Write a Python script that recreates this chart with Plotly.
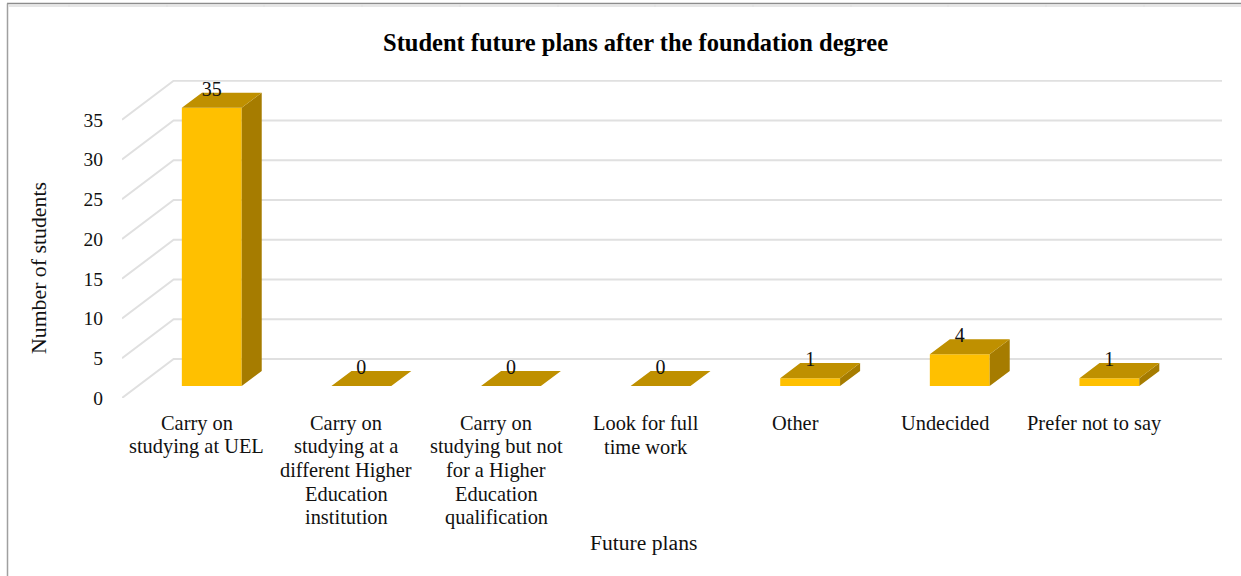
import plotly.graph_objects as go

category_lines = [
    ["Carry on", "studying at UEL"],
    ["Carry on", "studying at a", "different Higher", "Education", "institution"],
    ["Carry on", "studying but not", "for a Higher", "Education", "qualification"],
    ["Look for full", "time work"],
    ["Other"],
    ["Undecided"],
    ["Prefer not to say"],
]
students = [35, 0, 0, 0, 1, 4, 1]
y_ticks = [0, 5, 10, 15, 20, 25, 30, 35]
sheet_ticks = [69, 167, 264, 362, 460, 558, 655, 753, 851, 948, 1046, 1144]

W, H = 1241, 576
FONT = "Liberation Serif"

# fake 3d: the floor recedes up and to the right, in data units
WALL_DX, WALL_DY = 0.345, 4.9
BAR_DX, BAR_DY = 0.1, 1.5
SIDE_DX, SIDE_DY = 0.134, 1.9
BAR_W = 0.4
X_RANGE = [-0.5, 6.853]
Y_RANGE = [0, 40]

idx = list(range(len(category_lines)))
fig = go.Figure()

# gridlines: diagonal on the side wall, then straight along the back wall
grid_x, grid_y = [], []
for t in y_ticks:
    grid_x += [-0.5, -0.5 + WALL_DX, X_RANGE[1], None]
    grid_y += [t, t + WALL_DY, t + WALL_DY, None]
fig.add_trace(go.Scatter(x=grid_x, y=grid_y, mode="lines",
                         line=dict(color="#e0e0e0", width=2), hoverinfo="skip"))

# front of the bars, on overlay axes so the gridlines stay behind them
fig.add_trace(go.Bar(x=[i + BAR_DX for i in idx], y=students, base=BAR_DY, width=BAR_W,
                     marker=dict(color="#ffc000", line=dict(width=0)), xaxis="x2", yaxis="y2"))

# top and side faces
top_x, top_y, side_x, side_y = [], [], [], []
for i, v in zip(idx, students):
    x0 = i + BAR_DX - BAR_W / 2
    x1 = i + BAR_DX + BAR_W / 2
    y1 = v + BAR_DY
    top_x += [x0, x1, x1 + SIDE_DX, x0 + SIDE_DX, x0, None]
    top_y += [y1, y1, y1 + SIDE_DY, y1 + SIDE_DY, y1, None]
    if v > 0:
        side_x += [x1, x1 + SIDE_DX, x1 + SIDE_DX, x1, x1, None]
        side_y += [BAR_DY, BAR_DY + SIDE_DY, y1 + SIDE_DY, y1, BAR_DY, None]
fig.add_trace(go.Scatter(x=side_x, y=side_y, mode="lines", fill="toself", fillcolor="#a67c00",
                         line=dict(width=0), hoverinfo="skip", xaxis="x2", yaxis="y2"))
fig.add_trace(go.Scatter(x=top_x, y=top_y, mode="lines", fill="toself", fillcolor="#bf9000",
                         line=dict(width=0), hoverinfo="skip", xaxis="x2", yaxis="y2"))

# data labels
fig.add_trace(go.Scatter(x=[i + BAR_DX for i in idx], y=[v + BAR_DY + 2.15 for v in students],
                         mode="text", text=[str(v) for v in students], textposition="middle center",
                         textfont=dict(family=FONT, size=20, color="#111111"), hoverinfo="skip",
                         xaxis="x2", yaxis="y2"))

# frame of the pasted spreadsheet
shapes = [
    dict(type="line", xref="paper", yref="paper", x0=-115 / 1100, x1=1119 / 1100,
         y0=(398 - 3.5) / 318, y1=(398 - 3.5) / 318, line=dict(color="#8c8c8c", width=1.5)),
    dict(type="line", xref="paper", yref="paper", x0=-114.5 / 1100, x1=-114.5 / 1100,
         y0=-178 / 318, y1=(398 - 3.5) / 318, line=dict(color="#a0a0a0", width=1.5)),
    dict(type="line", xref="paper", yref="paper", x0=-114 / 1100, x1=1119 / 1100,
         y0=(398 - 6) / 318, y1=(398 - 6) / 318, line=dict(color="#e6e6e6", width=2)),
]
for sx in sheet_ticks:
    shapes.append(dict(type="line", xref="paper", yref="paper", x0=(sx - 122) / 1100, x1=(sx - 122) / 1100,
                       y0=(398 - 7) / 318, y1=(398 - 4) / 318, line=dict(color="#e0e0e0", width=1.5)))

annotations = [
    dict(text="Student future plans after the foundation degree", xref="paper", yref="paper",
         x=(635 - 122) / 1100, y=(398 - 42) / 318, showarrow=False, xanchor="center", yanchor="middle",
         font=dict(family=FONT, size=24.5, color="black", weight="bold")),
    dict(text="Future plans", xref="paper", yref="paper",
         x=(643 - 122) / 1100, y=(398 - 543) / 318, showarrow=False, xanchor="center", yanchor="middle",
         font=dict(family=FONT, size=21.6, color="#111111")),
    dict(text="Number of students", xref="paper", yref="paper", textangle=-90,
         x=(39 - 122) / 1100, y=(398 - 268) / 318, showarrow=False, xanchor="center", yanchor="middle",
         font=dict(family=FONT, size=21.8, color="#111111")),
]

# category labels line by line, the line spacing is tighter than plotly's own
for i, lines in zip(idx, category_lines):
    for j, line in enumerate(lines):
        annotations.append(dict(text=line, xref="x", yref="paper", x=i, y=0, yshift=-25 - 23.5 * j,
                                showarrow=False, xanchor="center", yanchor="middle",
                                font=dict(family=FONT, size=20.4, color="#111111")))

fig.update_layout(
    width=W, height=H,
    margin=dict(l=122, r=19, t=80, b=178, pad=0),
    paper_bgcolor="white", plot_bgcolor="white",
    showlegend=False,
    shapes=shapes,
    annotations=annotations,
    xaxis=dict(range=X_RANGE, showticklabels=False, showgrid=False, zeroline=False, showline=False, ticks=""),
    yaxis=dict(range=Y_RANGE, tickvals=y_ticks, showgrid=False, zeroline=False, showline=False,
               ticks="outside", ticklen=14, tickcolor="rgba(0,0,0,0)",
               tickfont=dict(family=FONT, size=19.5, color="#111111")),
    xaxis2=dict(range=X_RANGE, overlaying="x", visible=False),
    yaxis2=dict(range=Y_RANGE, overlaying="y", visible=False),
)

fig.write_html("out.html", config=dict(displayModeBar=False),
               post_script="document.body.style.margin='0';document.body.style.overflow='hidden';")
